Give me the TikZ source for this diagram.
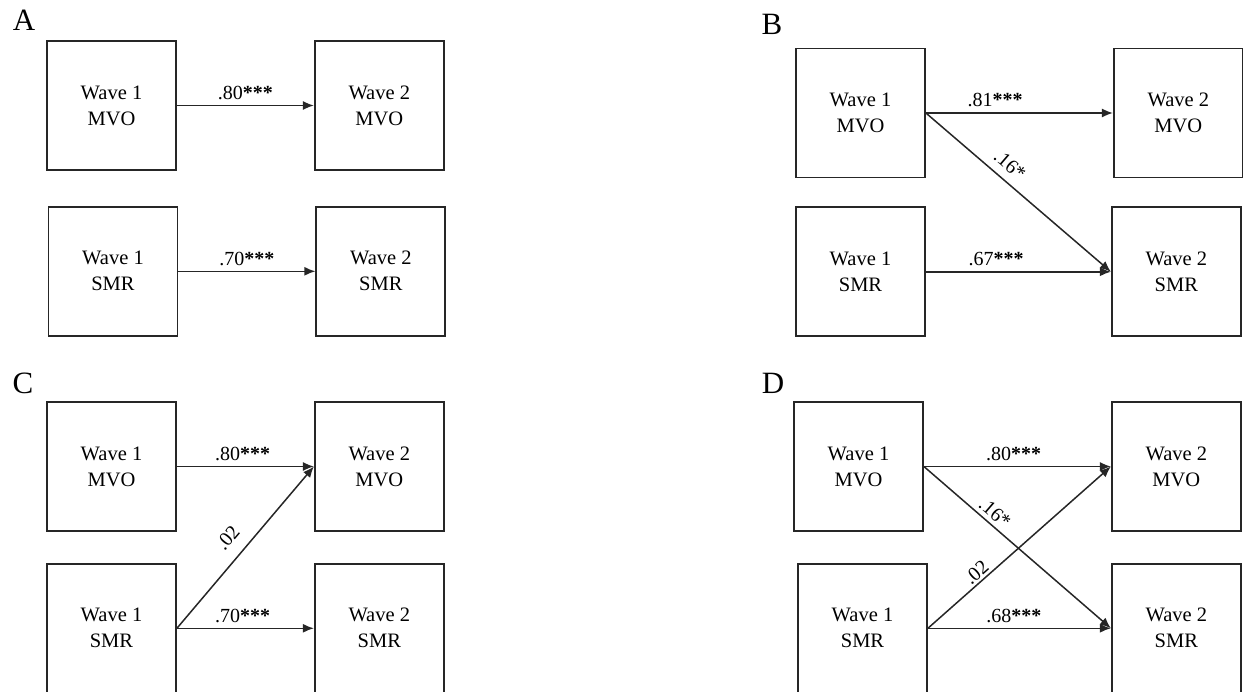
\documentclass[tikz,border=0pt]{standalone}
\usepackage{fontspec}
\setmainfont{Liberation Serif}
\usetikzlibrary{arrows.meta,positioning}

\newcommand{\sig}[1]{\textbf{#1}}

\begin{document}
\begin{tikzpicture}[x=1pt,y=1pt,node distance=137pt]
        \tikzstyle{wave}=[draw=black!85, rectangle, line width=1.8pt, minimum width=129pt, minimum height=129pt, align=center, inner sep=0pt, font=\fontsize{20.5}{26}\selectfont]
        \tikzstyle{reg}=[-{Latex[length=11pt,width=9pt]}, line width=1.5pt, black!85]
        \tikzstyle{coef}=[text=black, inner sep=2pt, font=\fontsize{20}{24}\selectfont]
        \tikzstyle{panel}=[font=\fontsize{31}{36}\selectfont]

        \useasboundingbox (0,0) rectangle (1243,-692);

        % A
        \node[panel] (la) at (24,-20) {A};
        \node[wave] (a1m) at (111.5,-105.5) {Wave 1\\MVO};
        \node[wave] (a2m) [right=of a1m] {Wave 2\\MVO};
        \node[wave] (a1s) [below=35pt of a1m, xshift=1.5pt] {Wave 1\\SMR};
        \node[wave] (a2s) [below=35pt of a2m, xshift=1.5pt] {Wave 2\\SMR};

        \draw[reg] (a1m) -- node[coef, above=3pt] {.80\sig{***}} (a2m);
        \draw[reg] (a1s) -- node[coef, above=3pt] {.70\sig{***}} (a2s);

        % B
        \node[panel] (lb) at (772,-24) {B};
        \node[wave] (b1m) at (860.5,-113) {Wave 1\\MVO};
        \node[wave] (b2m) [right=187pt of b1m] {Wave 2\\MVO};
        \node[wave] (b1s) [below=28pt of b1m] {Wave 1\\SMR};
        \node[wave] (b2s) [below=28pt of b2m, xshift=-2pt] {Wave 2\\SMR};

        \draw[reg] (b1m) -- node[coef, above=3pt, pos=0.37] {.81\sig{***}} (b2m);
        \draw[reg] (b1s) -- node[coef, above=3pt, pos=0.38] {.67\sig{***}} (b2s);
        \draw[reg] (b1m.east) -- node[coef, sloped, above=6pt, pos=0.4] {.16*} (b2s.west);

        % C
        \node[panel] (lc) at (23,-383) {C};
        \node[wave] (c1m) at (111.5,-466.5) {Wave 1\\MVO};
        \node[wave] (c2m) [right=of c1m] {Wave 2\\MVO};
        \node[wave] (c1s) [below=31pt of c1m] {Wave 1\\SMR};
        \node[wave] (c2s) [below=31pt of c2m] {Wave 2\\SMR};

        \draw[reg] (c1m) -- node[coef, above=3pt, pos=0.48] {.80\sig{***}} (c2m);
        \draw[reg] (c1s) -- node[coef, above=3pt, pos=0.48] {.70\sig{***}} (c2s);
        \draw[reg] (c1s.east) -- node[coef, sloped, above=10pt, pos=0.48] {.02} (c2m.west);

        % D
        \node[panel] (ld) at (773,-383) {D};
        \node[wave] (d1m) at (858.5,-466.5) {Wave 1\\MVO};
        \node[wave] (d2m) [right=187pt of d1m] {Wave 2\\MVO};
        \node[wave] (d1s) [below=31pt of d1m, xshift=4pt] {Wave 1\\SMR};
        \node[wave] (d2s) [below=31pt of d2m] {Wave 2\\SMR};

        \draw[reg] (d1m) -- node[coef, above=3pt, pos=0.48] {.80\sig{***}} (d2m);
        \draw[reg] (d1s) -- node[coef, above=3pt, pos=0.47] {.68\sig{***}} (d2s);
        \draw[reg] (d1m.east) -- node[coef, sloped, above=2pt, pos=0.34] {.16*} (d2s.west);
        \draw[reg] (d1s.east) -- node[coef, sloped, above=0pt, pos=0.3] {.02} (d2m.west);

    \end{tikzpicture}
\end{document}
